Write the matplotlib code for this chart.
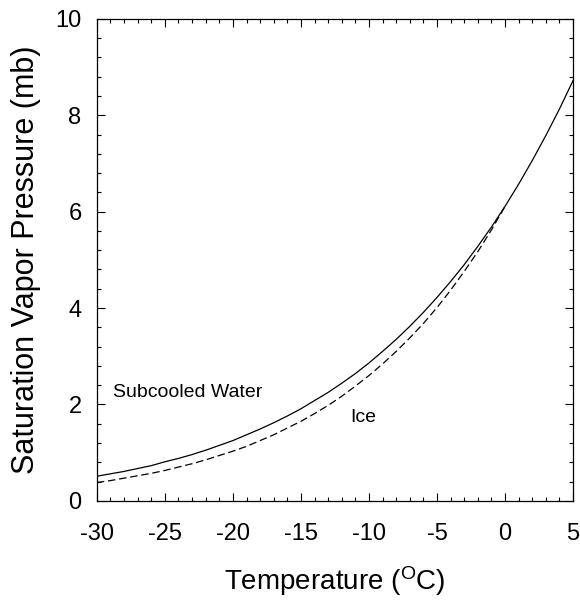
import matplotlib
matplotlib.use("Agg")
import matplotlib.pyplot as plt
from matplotlib.ticker import MultipleLocator

plt.rcParams['font.family'] = ['Liberation Sans', 'DejaVu Sans']
plt.rcParams['mathtext.fontset'] = 'custom'
plt.rcParams['mathtext.rm'] = 'Liberation Sans'
plt.rcParams['mathtext.default'] = 'regular'
plt.rcParams['axes.unicode_minus'] = False

# temperature (C) and saturation vapor pressure (mb)
temp_water = [-30, -29, -28, -27, -26, -25, -24, -23, -22, -21, -20, -19, -18,
              -17, -16, -15, -14, -13, -12, -11, -10, -9, -8, -7, -6, -5, -4,
              -3, -2, -1, 0, 1, 2, 3, 4, 5]
es_water = [0.51, 0.56, 0.61, 0.67, 0.73, 0.81, 0.88, 0.96, 1.05, 1.15, 1.25,
            1.37, 1.49, 1.62, 1.76, 1.91, 2.08, 2.25, 2.44, 2.64, 2.86, 3.10,
            3.35, 3.62, 3.91, 4.22, 4.55, 4.90, 5.28, 5.68, 6.11, 6.57, 7.06,
            7.58, 8.13, 8.72]

temp_ice = [-30, -29, -28, -27, -26, -25, -24, -23, -22, -21, -20, -19, -18,
            -17, -16, -15, -14, -13, -12, -11, -10, -9, -8, -7, -6, -5, -4,
            -3, -2, -1, 0]
es_ice = [0.38, 0.42, 0.47, 0.52, 0.57, 0.63, 0.70, 0.77, 0.85, 0.94, 1.03,
          1.13, 1.25, 1.37, 1.51, 1.65, 1.81, 1.98, 2.17, 2.38, 2.60, 2.84,
          3.10, 3.38, 3.68, 4.01, 4.37, 4.76, 5.17, 5.62, 6.11]

fig = plt.figure(figsize=(5.8, 6.1), dpi=100)
ax = fig.add_axes([0.167, 0.179, 0.821, 0.790])

ax.plot(temp_water, es_water, color='black', lw=0.9)
ax.plot(temp_ice, es_ice, color='black', lw=0.9, ls=(0, (6, 3)))

ax.text(-28.8, 2.24, 'Subcooled Water', fontsize=14, va='center', ha='left')
ax.text(-11.4, 1.72, 'Ice', fontsize=14, va='center', ha='left')

ax.set_xlim(-30, 5)
ax.set_ylim(0, 10)
ax.xaxis.set_major_locator(MultipleLocator(5))
ax.xaxis.set_minor_locator(MultipleLocator(1))
ax.yaxis.set_major_locator(MultipleLocator(2))
ax.yaxis.set_minor_locator(MultipleLocator(0.4))
ax.tick_params(which='both', direction='in', top=True, right=True,
               labelsize=17, width=0.8)
ax.tick_params(which='major', length=6)
ax.tick_params(axis='x', which='major', pad=16)
ax.tick_params(axis='y', which='major', pad=11)
ax.tick_params(which='minor', length=3)
for s in ax.spines.values():
    s.set_linewidth(0.9)

ax.set_xlabel(r'Temperature ($^{O}$C)', fontsize=20, labelpad=14)
ax.set_ylabel('Saturation Vapor Pressure (mb)', fontsize=22, labelpad=10)

fig.savefig('out.png', dpi=100)
